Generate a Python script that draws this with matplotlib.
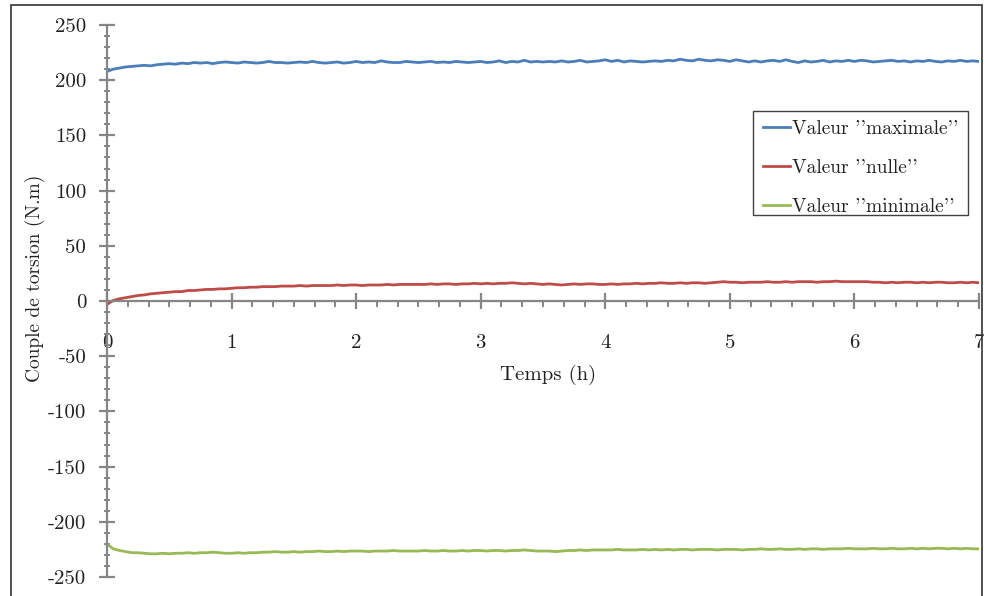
import numpy as np
import matplotlib
matplotlib.use('Agg')
import matplotlib.pyplot as plt
from matplotlib.patches import Rectangle
from matplotlib.ticker import MultipleLocator

plt.rcParams['font.family'] = ['cmr10', 'DejaVu Serif']
plt.rcParams['axes.unicode_minus'] = False
plt.rcParams['mathtext.fontset'] = 'cm'

# time grid (h), one reading every 0.05 h
t = np.linspace(0, 7, 141)

maxi = [208, 210, 211, 212, 212.5, 213, 213.5, 213, 214, 214.5,
        215, 214.5, 215.5, 215, 216, 215.5, 216, 215, 216, 216.5,
        216, 215.5, 216.5, 216, 215.5, 216, 217, 216, 216, 215.5,
        216, 216.5, 216, 217, 216, 215.5, 216, 216.5, 215.5, 216,
        217, 216, 216.5, 216, 217.5, 216.5, 216, 216, 217, 216.5,
        216, 216.5, 217, 216, 216.5, 216, 217, 216.5, 216, 216.5,
        217, 216, 216.5, 217.5, 216, 217, 216.5, 218, 216.5, 217,
        216.5, 217, 216.5, 217.5, 216.5, 217, 218, 216.5, 217, 217.5,
        218.5, 217, 218, 216.5, 217.5, 217, 216.5, 217, 217.5, 217,
        218, 217.5, 219, 218, 217.5, 219, 218, 217.5, 218.5, 218,
        217, 218.5, 217.5, 216.5, 217.5, 216.5, 217.5, 218, 217, 218.5,
        217, 216, 217.5, 216.5, 217, 218, 216.5, 217.5, 217, 218,
        217, 218, 217.5, 216.5, 217, 217.5, 218, 217, 217.5, 216.5,
        217.5, 217, 218, 217, 216.5, 217.5, 217, 218, 217, 217.5,
        217]

nulle = [-3, 0.5, 2, 3, 4, 5, 5.5, 6.5, 7, 7.5,
         8, 8.5, 8.5, 9.5, 9.5, 10, 10.5, 10.5, 11, 11,
         11.5, 12, 12, 12.5, 12.5, 13, 13, 13, 13.5, 13.5,
         13.5, 14, 13.5, 14, 14, 14, 14, 14.5, 14, 14.5,
         14.5, 14, 14.5, 14.5, 14.5, 15, 14.5, 15, 15, 15,
         15, 15, 15.5, 15, 15.5, 15.5, 15, 15.5, 15.5, 16,
         15.5, 16, 15.5, 16, 16, 16.5, 16, 15.5, 16, 15.5,
         15, 15.5, 15, 14.5, 15, 15.5, 15, 15.5, 15.5, 15,
         15, 15.5, 15, 15.5, 15.5, 16, 15.5, 16, 16, 16.5,
         16, 16, 16.5, 16, 16.5, 16.5, 16, 16.5, 17, 17.5,
         17, 17, 16.5, 17, 17, 17, 17.5, 17, 17, 17.5,
         17, 17.5, 17.5, 17.5, 17, 17.5, 17.5, 18, 17.5, 17.5,
         17.5, 17.5, 17.5, 17, 17, 16.5, 17, 16.5, 17, 17,
         16.5, 17, 16.5, 17, 17, 16.5, 16.5, 17, 16.5, 17,
         16.5]

mini = [-220, -224.5, -226, -227, -228, -228, -228.5, -229, -229, -228.5,
        -229, -228.5, -228.5, -228, -228.5, -228, -228, -227.5, -228, -228.5,
        -228.5, -228, -228.5, -228, -228, -227.5, -227.5, -227, -227.5, -227.5,
        -227, -227.5, -227, -227, -226.5, -227, -227, -226.5, -227, -226.5,
        -226.5, -226.5, -227, -226.5, -226.5, -226.5, -226, -226.5, -226.5, -226.5,
        -226.5, -226, -226.5, -226.5, -226, -226.5, -226.5, -226, -226.5, -226,
        -226, -226.5, -226, -226, -226.5, -226, -226, -225.5, -226, -226.5,
        -226.5, -226.5, -227, -226.5, -226, -226, -225.5, -226, -225.5, -225.5,
        -225.5, -225.5, -225, -225.5, -225.5, -225.5, -225, -225.5, -225, -225.5,
        -225, -225.5, -225, -225, -225.5, -225, -225, -225, -225.5, -225,
        -225, -225, -225.5, -225, -225, -224.5, -225, -225, -224.5, -225,
        -225, -224.5, -225, -224.5, -224.5, -225, -224.5, -224.5, -224.5, -224,
        -224.5, -224.5, -224.5, -224, -224.5, -224.5, -224, -224.5, -224.5, -224,
        -224.5, -224, -224.5, -224, -224, -224.5, -224, -224.5, -224, -224.5,
        -224.5]

labels = ["Valeur ''maximale''", "Valeur ''nulle''", "Valeur ''minimale''"]
colors = ['#4a7ebb', '#be4b48', '#98b954']
yticks = [-250, -200, -150, -100, -50, 0, 50, 100, 150, 200, 250]
xticks = [0, 1, 2, 3, 4, 5, 6, 7]

W, H = 984, 596
fig = plt.figure(figsize=(W/100, H/100), dpi=100)
ax = fig.add_axes([107/W, 1-577/H, (979-107)/W, (577-25)/H])

for y, c, lab in zip([maxi, nulle, mini], colors, labels):
    ax.plot(t, y, color=c, lw=2.0, label=lab)

ax.set_xlim(0, 7)
ax.set_ylim(-250, 250)

grey = '#868686'
for s in ['top', 'right']:
    ax.spines[s].set_visible(False)
ax.spines['left'].set_color(grey)
ax.spines['left'].set_linewidth(1.6)
ax.spines['bottom'].set_position(('data', 0))
ax.spines['bottom'].set_color(grey)
ax.spines['bottom'].set_linewidth(1.6)

ax.set_xticks(xticks)
ax.set_xticklabels([str(v) for v in xticks])
ax.set_yticks(yticks)
ax.set_yticklabels([str(v) for v in yticks])
ax.xaxis.set_minor_locator(MultipleLocator(1/6))
ax.yaxis.set_minor_locator(MultipleLocator(10))

ax.tick_params(axis='x', which='major', direction='inout', length=11, width=1.6,
               color=grey, pad=18, labelsize=15)
ax.tick_params(axis='x', which='minor', direction='out', length=4, width=1.4, color=grey)
ax.tick_params(axis='y', which='major', direction='inout', length=12, width=1.6,
               color=grey, pad=9, labelsize=15)
ax.tick_params(axis='y', which='minor', direction='inout', length=4, width=1.4, color=grey)
for lab in ax.get_xticklabels() + ax.get_yticklabels():
    lab.set_color('#222222')

fig.text(548/W, 1-375/H, 'Temps (h)', ha='center', va='center', fontsize=15, color='#222222')
fig.text(35/W, 1-278/H, 'Couple de torsion (N.m)', ha='center', va='center',
         rotation=90, fontsize=14, color='#222222')

# legend box drawn separately so the padding can differ horizontally / vertically
legbox = (753/W, 1-215/H, (968-753)/W, (215-111)/H)
leg = ax.legend(loc='center', bbox_to_anchor=(legbox[0], legbox[1] - 5/H, legbox[2], legbox[3]),
                bbox_transform=fig.transFigure,
                fontsize=14, frameon=False, handlelength=1.4, handletextpad=0.1,
                labelspacing=1.08, borderpad=0.25, borderaxespad=0)
for txt in leg.get_texts():
    txt.set_color('#222222')
leg.set_zorder(6)
ax.add_patch(Rectangle(legbox[:2], legbox[2], legbox[3], transform=fig.transFigure,
                       facecolor='white', edgecolor='#404040', lw=1.0, zorder=5,
                       clip_on=False))

# chart area frame
fig.patches.append(Rectangle((11/W, -0.05), (982-11)/W, 1.05-5/H, transform=fig.transFigure,
                             fill=False, edgecolor='#333333', lw=1.2))

fig.savefig('out.png', dpi=100)
